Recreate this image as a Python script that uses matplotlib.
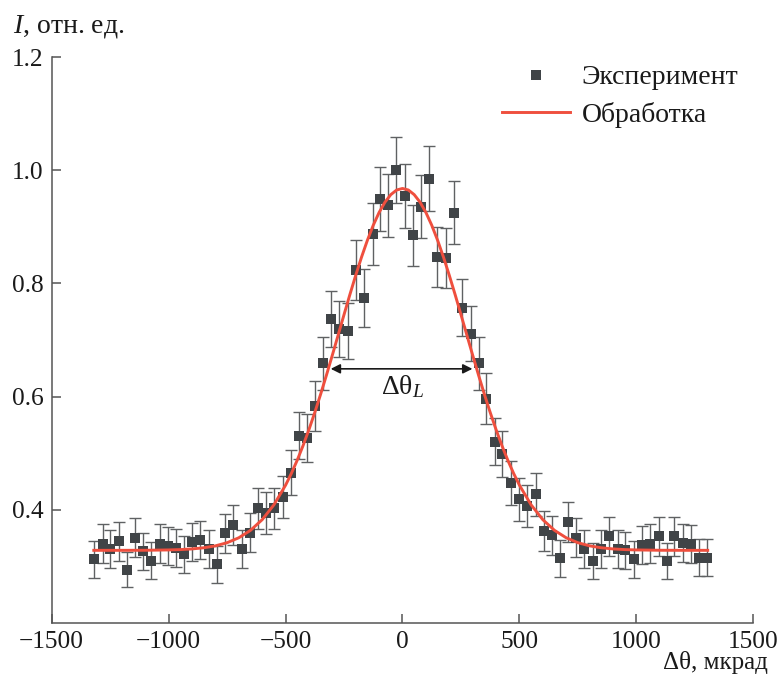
import matplotlib
matplotlib.use("Agg")
import matplotlib.pyplot as plt
from matplotlib.lines import Line2D

plt.rcParams['font.family'] = ['Liberation Serif', 'DejaVu Serif']
plt.rcParams['mathtext.fontset'] = 'custom'
plt.rcParams['mathtext.rm'] = 'Liberation Serif'
plt.rcParams['mathtext.it'] = 'Liberation Serif:italic'

# ---- data ----
theta = [-1320, -1281, -1249, -1213, -1178, -1142, -1109, -1074, -1038, -1004,
         -970, -936, -900, -865, -829, -794, -758, -723, -687, -654,
         -619, -583, -548, -512, -477, -441, -407, -374,
         -341, -306, -270, -235, -199, -164, -128, -97, -61, -26,
         10, 43, 78, 114, 149, 185, 219, 256, 291, 327,
         358, 394, 427, 462, 498, 533, 569, 604, 640, 674,
         709, 742, 778, 813, 849, 884, 920, 953, 988, 1024,
         1059, 1095, 1129, 1163, 1199, 1234, 1268, 1304]

intensity = [0.312, 0.340, 0.331, 0.344, 0.294, 0.350, 0.326, 0.310, 0.340, 0.335,
             0.332, 0.321, 0.343, 0.346, 0.331, 0.303, 0.358, 0.372, 0.331, 0.359,
             0.402, 0.394, 0.402, 0.422, 0.465, 0.531, 0.527, 0.584,
             0.659, 0.737, 0.719, 0.716, 0.824, 0.774, 0.887, 0.949, 0.938, 1.001,
             0.954, 0.885, 0.936, 0.985, 0.847, 0.845, 0.925, 0.757, 0.711, 0.659,
             0.596, 0.520, 0.498, 0.447, 0.418, 0.406, 0.427, 0.362, 0.355, 0.314,
             0.378, 0.350, 0.330, 0.309, 0.330, 0.353, 0.331, 0.328, 0.312, 0.338,
             0.340, 0.353, 0.309, 0.353, 0.341, 0.339, 0.315, 0.315]

errors = [0.0324, 0.0338, 0.0334, 0.0340, 0.0314, 0.0343, 0.0331, 0.0323, 0.0338, 0.0336,
          0.0334, 0.0329, 0.0340, 0.0341, 0.0334, 0.0319, 0.0347, 0.0354, 0.0334, 0.0348,
          0.0368, 0.0364, 0.0368, 0.0377, 0.0396, 0.0423, 0.0421, 0.0443,
          0.0471, 0.0498, 0.0492, 0.0491, 0.0526, 0.0510, 0.0546, 0.0565, 0.0562, 0.0580,
          0.0566, 0.0546, 0.0561, 0.0576, 0.0534, 0.0533, 0.0558, 0.0505, 0.0489, 0.0471,
          0.0448, 0.0418, 0.0409, 0.0388, 0.0375, 0.0370, 0.0379, 0.0349, 0.0346, 0.0325,
          0.0357, 0.0343, 0.0333, 0.0322, 0.0333, 0.0345, 0.0334, 0.0332, 0.0324, 0.0337,
          0.0338, 0.0345, 0.0322, 0.0345, 0.0339, 0.0338, 0.0326, 0.0326]

fit_theta = [-1320, -1200, -1100, -1000, -950, -900, -850, -800, -750, -700, -650, -600, -550,
             -500, -475, -450, -425, -400, -375, -350, -325, -300, -275, -250, -225,
             -200, -175, -150, -125, -100, -75, -50, -25, 0,
             25, 50, 75, 100, 125, 150, 175, 200, 225, 250, 275, 300, 325, 350, 375,
             400, 425, 450, 475, 500, 550, 600, 650, 700, 750, 800, 850, 900, 950,
             1000, 1100, 1200, 1305]
fit_values = [0.328, 0.328, 0.3281, 0.3287, 0.3293, 0.3305, 0.3325, 0.3359, 0.3415, 0.3502, 0.3633, 0.3822, 0.4084,
              0.4432, 0.4642, 0.4876, 0.5134, 0.5416, 0.5719, 0.6042, 0.6381, 0.6732, 0.7090, 0.7449, 0.7803,
              0.8145, 0.8468, 0.8765, 0.9030, 0.9256, 0.9438, 0.9571, 0.9653, 0.968,
              0.9653, 0.9571, 0.9438, 0.9256, 0.9030, 0.8765, 0.8468, 0.8145, 0.7803, 0.7449, 0.7090, 0.6732, 0.6381, 0.6042, 0.5719,
              0.5416, 0.5134, 0.4876, 0.4642, 0.4432, 0.4084, 0.3822, 0.3633, 0.3502, 0.3415, 0.3359, 0.3325, 0.3305, 0.3293,
              0.3287, 0.3281, 0.328, 0.328]

x_ticks = [-1500, -1000, -500, 0, 500, 1000, 1500]
y_ticks = [0.4, 0.6, 0.8, 1.0, 1.2]
legend_labels = ["Эксперимент", "Обработка"]

# ---- figure ----
W, H = 779, 683
fig = plt.figure(figsize=(W / 100, H / 100), dpi=100)
ax = fig.add_axes([51.7 / W, 1 - 622.7 / H, 701.6 / W, 565.4 / H])

marker_color = '#404447'
err_color = '#5f6163'
fit_color = '#ef4f3e'
axis_color = '#555555'
text_color = '#1a1a1a'

ax.errorbar(theta, intensity, yerr=errors, fmt='none', ecolor=err_color,
            elinewidth=1.0, capsize=4.3, capthick=1.0, zorder=2)
ax.plot(theta, intensity, 's', color=marker_color, markersize=7.3,
        markeredgewidth=0, zorder=3)
ax.plot(fit_theta, fit_values, '-', color=fit_color, lw=2.1, zorder=4)

ax.set_xlim(-1500, 1500)
ax.set_ylim(0.2, 1.2)
ax.set_xticks(x_ticks)
ax.set_xticklabels(['\u22121500', '\u22121000', '\u2212500', '0', '500', '1000', '1500'])
ax.set_yticks(y_ticks)
ax.set_yticklabels(['0.4', '0.6', '0.8', '1.0', '1.2'])

for s in ['top', 'right']:
    ax.spines[s].set_visible(False)
for s in ['left', 'bottom']:
    ax.spines[s].set_color(axis_color)
    ax.spines[s].set_linewidth(1.1)
ax.tick_params(direction='in', length=6.5, width=1.1, color=axis_color,
               labelsize=18.3, labelcolor=text_color, pad=6)

# arrow for width
ax.annotate('', xy=(-307, 0.649), xytext=(299, 0.649),
            arrowprops=dict(arrowstyle='<|-|>', color=text_color, lw=1.2,
                            mutation_scale=14, shrinkA=0, shrinkB=0))
ax.text(0, 0.617, r'Δθ$_{L}$', ha='center', va='center', fontsize=20, color=text_color)

# axis labels
fig.text(13 / W, 1 - 27 / H, r'$I$, отн. ед.', ha='left', va='center',
         fontsize=20, color=text_color)
fig.text(768 / W, 1 - 662 / H, 'Δθ, мкрад', ha='right', va='center',
         fontsize=18, color=text_color)

handles = [Line2D([], [], ls='none', marker='s', color=marker_color, markersize=7.3,
                  markeredgewidth=0),
           Line2D([], [], ls='-', color=fit_color, lw=2.1)]
ax.legend(handles, legend_labels, loc='upper left', frameon=False, fontsize=20,
          bbox_to_anchor=(502 / W, 1 - 65 / H), bbox_transform=fig.transFigure,
          borderpad=0, borderaxespad=0, handlelength=2.45, handletextpad=0.42,
          labelspacing=0.4, labelcolor=text_color)

fig.savefig('out.png', dpi=100)
